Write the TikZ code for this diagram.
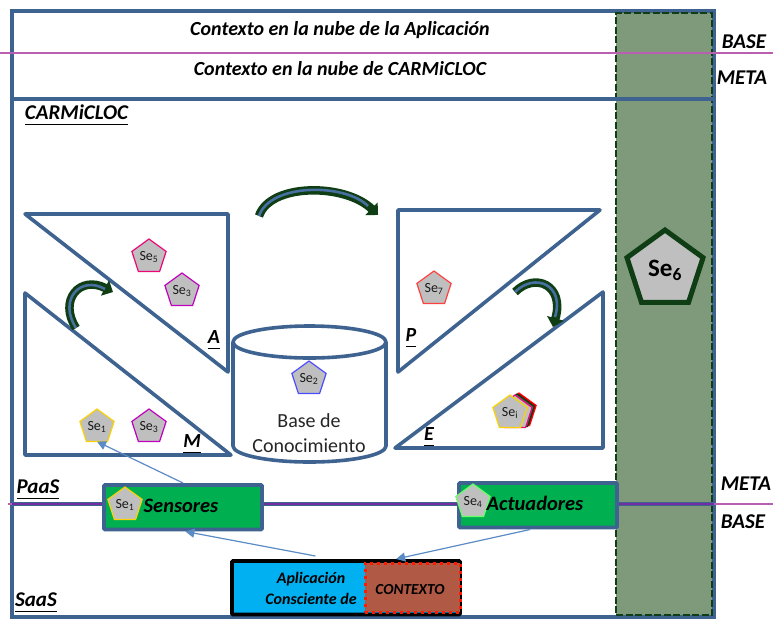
\documentclass[tikz,border=0pt]{standalone}
\usepackage{fontspec}
\setmainfont{Carlito}
\usetikzlibrary{shapes.geometric,arrows.meta,calc}
\definecolor{framec}{HTML}{3E6390}
\definecolor{panelc}{HTML}{7F9A7B}
\definecolor{darkg}{HTML}{0F3D14}
\definecolor{lineb}{HTML}{5B8BC4}
\definecolor{pentg}{HTML}{BFBFBF}
\definecolor{purplel}{HTML}{B85FB0}
\definecolor{purpled}{HTML}{7030A0}
\definecolor{boxg}{HTML}{00B050}
\definecolor{cyanb}{HTML}{00B0F0}
\definecolor{ctxb}{HTML}{B05A45}
\newcommand{\fs}[1]{\fontsize{#1}{#1}\selectfont}
\newcommand{\lab}[1]{\underline{\smash{#1}\vphantom{p}}}
\tikzset{
 every node/.style={outer sep=0pt},
 frameline/.style={draw=framec,line width=3.6pt,line join=round},
 pent/.style={regular polygon,regular polygon sides=5,draw=#1,fill=pentg,minimum size=36pt,inner sep=0pt,line width=1.2pt,font=\fs{14},text=black!90},
 pent/.default=black,
 title/.style={font=\bfseries\itshape\fs{20},text=black,inner sep=0pt},
 tag/.style={font=\bfseries\itshape\fs{21},text=black,inner sep=0pt},
 mark letter/.style={font=\bfseries\itshape\fs{20},text=black,inner sep=0pt},
 greenbox/.style={draw=framec,line width=3.6pt,fill=boxg,rounded corners=1pt,inner sep=0pt,anchor=north west},
 boxtext/.style={font=\bfseries\itshape\fs{20.5},text=black,inner sep=0pt},
 flow/.style={draw=lineb,line width=1.2pt,-{Triangle[length=9pt,width=9pt]}},
 bendouter/.style={draw=darkg,line width=8.5pt,-{Triangle[length=9pt,width=17pt]}},
 bendinner/.style={draw=framec!70!lineb,line width=2.6pt},
 x=1pt,y=-1pt
}
\begin{document}
\begin{tikzpicture}
\useasboundingbox (0,0) rectangle (773,619);
% frame
\node[draw=framec,line width=3.6pt,minimum width=702pt,minimum height=606pt,inner sep=0pt,anchor=north west] (frame) at (12,11) {};
% green panel
\node[draw=darkg,line width=2.6pt,dash pattern=on 7pt off 2.5pt,fill=panelc,minimum width=96pt,minimum height=602pt,inner sep=0pt,anchor=north west] (panel) at (616,13) {};
\coordinate (divL) at (12,99); \coordinate (divR) at (714,99);
\draw[frameline] (divL) -- (divR);
% upper meta/base line
\coordinate (upL) at (0,53); \coordinate (upR) at (773,53);
\draw[purplel,line width=1.5pt] (upL) -- (upR);
% lower meta/base line
\coordinate (loL) at (8,504); \coordinate (loR) at (773,504);
\draw[purplel,line width=1.5pt] (loL) -- (loR);
\coordinate (loA) at (12,504); \coordinate (loB) at (714,504);
\draw[framec,line width=3.5pt] (loA) -- (loB);
\draw[purpled,line width=1.8pt] (loA) -- (loB);
% titles
\node[title] (t1) at (340,30) {Contexto en la nube de la Aplicación};
\node[title] (t2) at (340,69) {Contexto en la nube de CARMiCLOC};
\node[tag] (lc) at (76.5,117) {\lab{CARMiCLOC}};
\node[tag] (lp) at (38,491) {\lab{PaaS}};
\node[tag] (ls) at (36,604) {\lab{SaaS}};
\node[tag] (b1) at (744,42) {BASE};
\node[tag] (m1) at (742,78) {META};
\node[tag] (m2) at (746,484) {META};
\node[tag] (b2) at (743,522) {BASE};
% triangles
\draw[frameline] (25,214) -- (228,214) -- (228,372) -- cycle;
\draw[frameline] (25,293) -- (25,455) -- (231,455) -- cycle;
\draw[frameline] (398,210) -- (600,210) -- (398,372) -- cycle;
\draw[frameline] (603,292) -- (603,448) -- (395,448) -- cycle;
\node[mark letter] (la) at (214,341) {\lab{A}};
\node[mark letter] (lm) at (192,445) {\lab{M}};
\node[mark letter] (lpp) at (411,339) {\lab{P}};
\node[mark letter] (le) at (429,438) {\lab{E}};
% cylinder
\draw[frameline,fill=white] (233,342) -- (233,446) arc[start angle=180,end angle=0,x radius=76.5,y radius=16] -- (386,342);
\draw[frameline,fill=white] (309.5,342) ellipse[x radius=76.5,y radius=16];
\node[font=\fs{20},text=black!85,inner sep=0pt] (k1) at (309,421) {Base de};
\node[font=\fs{20},text=black!85,inner sep=0pt] (k2) at (309,446) {Conocimiento};
% pentagons
\node[pent=magenta!80!red] (p5) at (149,257) {Se\textsubscript{5}};
\node[pent=violet!50!magenta] (p3a) at (182,291) {Se\textsubscript{3}};
\node[pent=yellow!70!orange] (p1) at (97,427) {Se\textsubscript{1}};
\node[pent=violet!50!magenta] (p3b) at (149,427) {Se\textsubscript{3}};
\node[pent=blue!70!white] (p2) at (309,379) {Se\textsubscript{2}};
\node[pent=red!75!white] (p7) at (434,289) {Se\textsubscript{7}};
\node[pent=red,fill=red!60!black] (pi3) at (519,411) {};
\node[pent=darkg,fill=darkg!50!panelc] (pi2) at (517,412) {};
\node[pent=magenta!80!red,fill=pentg] (pi1) at (515,413) {};
\node[pent=yellow!70!orange] (pi) at (510,413) {Se\textsubscript{i}};
\node[regular polygon,regular polygon sides=5,draw=darkg,fill=pentg,line width=5pt,minimum size=80pt,inner sep=0pt,font=\bfseries\fs{25},text=black] (p6) at (665,270) {Se\textsubscript{6}};
% bend arrows
\coordinate (ma1) at (76,328); \coordinate (ma2) at (113,292);
\draw[bendouter] (ma1) .. controls (58,300) and (80,275) .. (ma2);
\draw[bendinner] (ma1) .. controls (58,300) and (80,275) .. (105,289);
\coordinate (ap1) at (259,216); \coordinate (ap2) at (378,215);
\draw[bendouter] (ap1) .. controls (270,183) and (345,183) .. (ap2);
\draw[bendinner] (ap1) .. controls (270,183) and (345,183) .. (368,206);
\coordinate (pe1) at (515,292); \coordinate (pe2) at (553,327);
\draw[bendouter] (pe1) .. controls (535,272) and (565,285) .. (pe2);
\draw[bendinner] (pe1) .. controls (535,272) and (565,285) .. (555,317);
% PaaS boxes
\node[greenbox,minimum width=158pt,minimum height=44.5pt] (sens) at (104,485) {};
\node[greenbox,minimum width=158pt,minimum height=44.5pt] (act) at (459,483) {};
\node[pent=yellow!70!orange] (ps) at (125,505) {Se\textsubscript{1}};
\node[pent=green!60!white] (pa) at (473,502) {Se\textsubscript{4}};
\node[boxtext] (st) at (181,506) {Sensores};
\node[boxtext] (at) at (535,503) {Actuadores};
% application
\node[draw=black,line width=3.6pt,fill=cyanb,rounded corners=1pt,minimum width=228pt,minimum height=53.5pt,inner sep=0pt,anchor=north west] (app) at (232,561) {};
\node[draw=red!80!orange,line width=3pt,dash pattern=on 3pt off 4pt,fill=ctxb,minimum width=95pt,minimum height=49pt,inner sep=0pt,anchor=north west] (ctx) at (365,563) {};
\node[font=\bfseries\itshape\fs{16},text=black,inner sep=0pt,align=center] (apt) at (311,588) {Aplicación\\[5pt]Consciente de};
\node[font=\bfseries\itshape\fs{15.3},text=black,inner sep=0pt] (ctt) at (410,590) {CONTEXTO};
% connectors
\coordinate (a1) at ($(app.north west)!0.366!(app.north east)+(0,-5)$);
\coordinate (a2) at ($(sens.south west)!0.515!(sens.south east)+(0,2)$);
\draw[flow] (a1) -- (a2);
\coordinate (b1a) at ($(act.south west)!0.45!(act.south east)+(0,2)$);
\coordinate (b2a) at ($(app.north west)!0.72!(app.north east)+(0,-2)$);
\draw[flow] (b1a) -- (b2a);
\coordinate (c1) at ($(sens.north west)!0.5!(sens.north east)+(0,-2)$);
\draw[flow] (c1) -- (p1.south);
\end{tikzpicture}
\end{document}
